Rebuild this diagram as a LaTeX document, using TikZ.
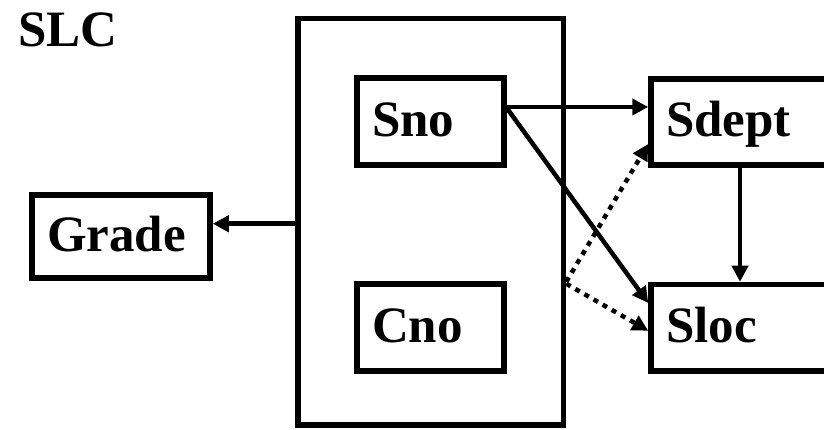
\documentclass[tikz,border=0pt]{standalone}
\usepackage{fontspec}
\setmainfont{Liberation Serif}
\usetikzlibrary{arrows.meta}
\tikzset{
  box/.style={draw, line width=5.5pt, inner xsep=15pt, inner ysep=0pt, align=left,
    text height=34pt, text depth=4pt, font=\bfseries\fontsize{51}{51}\selectfont},
  bigbox/.style={draw, line width=5.5pt, inner sep=0pt},
  arr/.style={line width=4.5pt, -{Triangle[length=16pt,width=16pt]}},
  dotarr/.style={arr, dash pattern=on 5pt off 5.5pt},
}
\begin{document}
\begin{tikzpicture}[x=1pt,y=-1pt]
\useasboundingbox (0,0) rectangle (824,430);
\clip (0,0) rectangle (824,430);
\node[anchor=base west, inner sep=0pt, font=\bfseries\fontsize{51}{51}\selectfont] (slc) at (18,46.7) {SLC};
\node[bigbox, minimum width=265.5pt, minimum height=406.5pt] (big) at (430.75,221.75) {};
\node[box, text width=117pt, minimum height=87pt] (sno) at (430.5,121.5) {Sno};
\node[box, text width=117pt, minimum height=87pt] (cno) at (430.5,327.5) {Cno};
\node[box, text width=148pt, minimum height=83pt] (grade) at (121,236.5) {Grade};
\node[box, text width=219pt, minimum height=86pt] (sdept) at (775.5,122) {Sdept};
\node[box, text width=219pt, minimum height=86.5pt] (sloc) at (775.5,327.75) {Sloc};
\draw[arr] ([yshift=-2pt]big.west) -- ([yshift=-2pt]big.west -| grade.east);
\draw[arr] ([yshift=14.5pt]sno.east) -- ([yshift=14.5pt]sno.east -| sdept.west);
\draw[arr] ([yshift=13.5pt]sno.east) -- ([yshift=24.75pt]sloc.west);
\draw[dotarr] ([yshift=-60pt]big.east) -- ([yshift=-22pt]sdept.west);
\draw[dotarr] ([yshift=-62pt]big.east) -- ([yshift=-3pt]sloc.west);
\draw[arr] ([xshift=-35.5pt]sdept.south) -- ([xshift=-35.5pt]sloc.north);
\end{tikzpicture}
\end{document}
